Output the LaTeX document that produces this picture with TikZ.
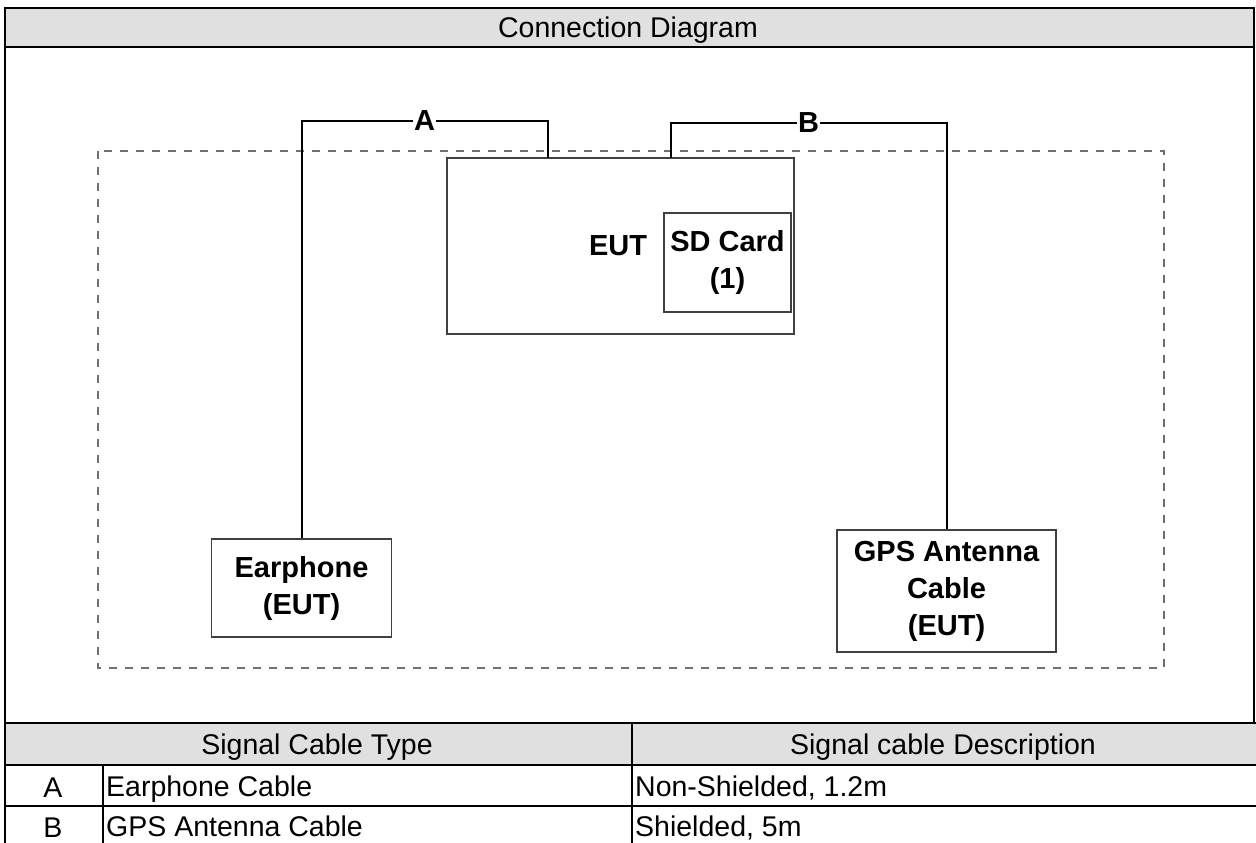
\documentclass[tikz,border=0pt]{standalone}
\usepackage{fontspec}
\setmainfont{Liberation Sans}
\usetikzlibrary{calc}
\definecolor{headgray}{HTML}{E0E0E0}
\definecolor{boxgray}{HTML}{404040}
\definecolor{zonegray}{HTML}{707070}
\newcommand{\txt}{\fontsize{28.5}{37}\selectfont}
\newcommand{\bigtxt}{\fontsize{29}{37}\selectfont}
\tikzset{
  unit/.style={draw=boxgray, line width=1.3pt, font=\bigtxt\bfseries, align=center, inner sep=0pt},
  cable/.style={line width=2pt},
  tag/.style={fill=white, font=\bigtxt\bfseries, inner sep=1pt},
  cell/.style={anchor=base, font=\txt, inner sep=0pt},
  grid/.style={line width=2pt},
  zone/.style={draw=zonegray, line width=1.3pt, dash pattern=on 8pt off 8pt}
}
\begin{document}
\begin{tikzpicture}[x=1pt,y=-1pt]
\useasboundingbox (0,0) rectangle (1256,843);
% frame and table
\fill[headgray] (5,8) rectangle (1254,47);
\fill[headgray] (5,723) rectangle (1256,765);
\draw[grid] (5,843) -- (5,8) -- (1254,8) -- (1254,723);
\draw[grid] (5,47) -- (1254,47);
\draw[grid] (5,723) -- (1256,723);
\draw[grid] (5,765) -- (1256,765);
\draw[grid] (5,806) -- (1256,806);
\draw[grid] (632,723) -- (632,843);
\draw[grid] (103,765) -- (103,843);
\node[cell] (title) at (628,38) {Connection Diagram};
\node[cell] (typehead) at (317,754) {Signal Cable Type};
\node[cell] (deschead) at (943,754) {Signal cable Description};
\node[cell] (rowA) at (53,797) {A};
\node[cell, anchor=base west] (typeA) at (106,796) {Earphone Cable};
\node[cell, anchor=base west] (descA) at (635,796) {Non-Shielded, 1.2m};
\node[cell] (rowB) at (53,837) {B};
\node[cell, anchor=base west] (typeB) at (106,836) {GPS Antenna Cable};
\node[cell, anchor=base west] (descB) at (635,836) {Shielded, 5m};
% test setup
\draw[zone] (98,151) rectangle (1164,668);
\node[unit, minimum width=347pt, minimum height=176pt] (eut) at (620.5,246) {};
\node[font=\bigtxt\bfseries, inner sep=0pt] (eutname) at (618,246) {EUT};
\node[unit, minimum width=127pt, minimum height=99pt] (sd) at (727.5,262.5) {SD Card\\(1)};
\node[unit, minimum width=180pt, minimum height=98pt] (earphone) at (301.5,588) {Earphone\\(EUT)};
\node[unit, minimum width=219pt, minimum height=122pt] (gps) at (946.5,591) {GPS Antenna\\Cable\\(EUT)};
% cables
\coordinate (portA) at (548,158);
\coordinate (portB) at (671,158);
\coordinate (ridgeA) at (424.5,121);
\coordinate (ridgeB) at (808.5,123);
\draw[cable] (earphone.north) |- (ridgeA) -| (portA);
\draw[cable] (portB) |- (ridgeB) -| (gps.north);
\node[tag] (labA) at (ridgeA) {A};
\node[tag] (labB) at (ridgeB) {B};
\end{tikzpicture}
\end{document}
